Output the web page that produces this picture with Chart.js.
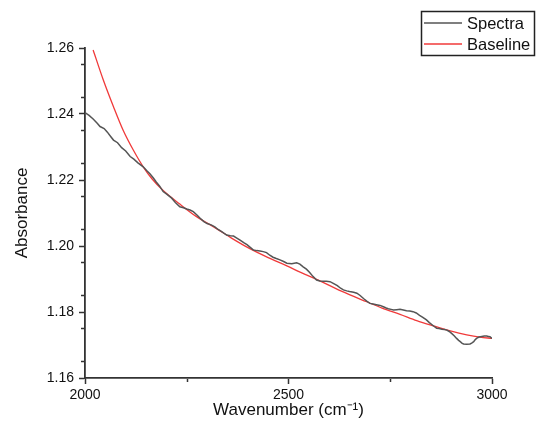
<!DOCTYPE html>
<html>
<head>
<meta charset="utf-8">
<script src="https://cdn.jsdelivr.net/npm/chart.js@4"></script>
<style>
  html, body { margin: 0; padding: 0; background: #fff; }
  #wrap { width: 536px; height: 433px; }
</style>
</head>
<body>
<div id="wrap"><canvas id="spectraChart"></canvas></div>
<script>
// values
var spectraX = [2000, 2010, 2020, 2030, 2037, 2047, 2055, 2063, 2070, 2080, 2090, 2100, 2111, 2120, 2130, 2143, 2152, 2160, 2168, 2175, 2183, 2192, 2200, 2213, 2222, 2233, 2242, 2250, 2258, 2266, 2275, 2283, 2292, 2300, 2310, 2319, 2327, 2335, 2348, 2357, 2365, 2373, 2381, 2390, 2398, 2406, 2414, 2422, 2430, 2438, 2446, 2454, 2462, 2470, 2479, 2488, 2496, 2508, 2520, 2528, 2536, 2544, 2552, 2560, 2569, 2577, 2585, 2593, 2602, 2610, 2620, 2628, 2635, 2643, 2650, 2660, 2668, 2676, 2685, 2693, 2700, 2708, 2716, 2725, 2733, 2740, 2745, 2752, 2758, 2766, 2774, 2782, 2790, 2798, 2806, 2814, 2822, 2830, 2839, 2846, 2852, 2858, 2864, 2870, 2877, 2883, 2889, 2895, 2900, 2907, 2913, 2918, 2922, 2926, 2930, 2938, 2946, 2950, 2955, 2958, 2962, 2968, 2975, 2981, 2987, 2991, 2995, 3000];
var spectraY = [1.2404, 1.2396, 1.2385, 1.2372, 1.2362, 1.2356, 1.2345, 1.2332, 1.2321, 1.2313, 1.2298, 1.2288, 1.2271, 1.2263, 1.2252, 1.2240, 1.2228, 1.2218, 1.2206, 1.2194, 1.2182, 1.2165, 1.2158, 1.2145, 1.2132, 1.2119, 1.2116, 1.2112, 1.2109, 1.2104, 1.2094, 1.2084, 1.2074, 1.2068, 1.2064, 1.2058, 1.2050, 1.2044, 1.2033, 1.2031, 1.2030, 1.2024, 1.2018, 1.2010, 1.2004, 1.1996, 1.1988, 1.1986, 1.1985, 1.1983, 1.1980, 1.1972, 1.1966, 1.1962, 1.1958, 1.1953, 1.1948, 1.1946, 1.1949, 1.1945, 1.1937, 1.1930, 1.1920, 1.1908, 1.1897, 1.1894, 1.1893, 1.1893, 1.1892, 1.1887, 1.1880, 1.1872, 1.1867, 1.1864, 1.1862, 1.1860, 1.1857, 1.1850, 1.1840, 1.1832, 1.1826, 1.1824, 1.1822, 1.1820, 1.1816, 1.1812, 1.1810, 1.1808, 1.1806, 1.1807, 1.1808, 1.1806, 1.1804, 1.1803, 1.1801, 1.1797, 1.1790, 1.1784, 1.1776, 1.1768, 1.1762, 1.1756, 1.1751, 1.1750, 1.1748, 1.1747, 1.1745, 1.1741, 1.1736, 1.1728, 1.1720, 1.1714, 1.1710, 1.1706, 1.1703, 1.1702, 1.1703, 1.1706, 1.1710, 1.1715, 1.1720, 1.1724, 1.1726, 1.1727, 1.1727, 1.1726, 1.1725, 1.1720];

var baselineX = [2020, 2045, 2070, 2094, 2119, 2143, 2165, 2192, 2233, 2274, 2324, 2360, 2405, 2450, 2496, 2530, 2569, 2630, 2692, 2730, 2774, 2815, 2856, 2900, 2938, 2970, 3000];
var baselineY = [1.2594, 1.2503, 1.2422, 1.2350, 1.2290, 1.2240, 1.2203, 1.2168, 1.2127, 1.2089, 1.2052, 1.2024, 1.1992, 1.1965, 1.1940, 1.1920, 1.1899, 1.1863, 1.1831, 1.1812, 1.1793, 1.1774, 1.1758, 1.1742, 1.1731, 1.1724, 1.1720];

var xTicks = [2000, 2500, 3000];
var yTicks = [1.16, 1.18, 1.20, 1.22, 1.24, 1.26];

function toPoints(xs, ys) {
    return xs.map(function (x, i) { return { x: x, y: ys[i] }; });
}

var axisColor = '#333333';
var fontFamily = 'Arial, "Liberation Sans", sans-serif';

// minor ticks halfway between major ones, plus a boxed legend top-right
var extrasPlugin = {
    id: 'extras',
    afterDraw: function (chart) {
        var ctx = chart.ctx;
        var xs = chart.scales.x, ys = chart.scales.y;
        ctx.save();
        ctx.strokeStyle = axisColor;
        ctx.lineWidth = 1.5;
        for (var v = 1.165; v < 1.26; v += 0.01) {
            var py = Math.round(ys.getPixelForValue(v)) + 0.5;
            ctx.beginPath();
            ctx.moveTo(xs.left - 1, py);
            ctx.lineTo(xs.left - 4, py);
            ctx.stroke();
        }
        [2250, 2750].forEach(function (v) {
            var px = Math.round(xs.getPixelForValue(v)) + 0.5;
            ctx.beginPath();
            ctx.moveTo(px, ys.bottom + 1);
            ctx.lineTo(px, ys.bottom + 4);
            ctx.stroke();
        });

        // legend
        var lx = 421, ly = 11, lw = 114, lh = 45;
        ctx.strokeStyle = '#222';
        ctx.lineWidth = 1.5;
        ctx.strokeRect(lx + 0.5, ly + 0.5, lw - 1, lh - 1);
        ctx.font = '16.5px ' + fontFamily;
        ctx.textBaseline = 'middle';
        ctx.textAlign = 'left';
        chart.data.datasets.forEach(function (ds, i) {
            var cy = ly + 12 + i * 21;
            ctx.strokeStyle = ds.borderColor;
            ctx.lineWidth = 1.3;
            ctx.beginPath();
            ctx.moveTo(lx + 3, cy);
            ctx.lineTo(lx + 41, cy);
            ctx.stroke();
            ctx.fillStyle = '#111';
            ctx.fillText(ds.label, lx + 46, cy + 1);
        });
        ctx.restore();
    }
};

var ctx = document.getElementById('spectraChart').getContext('2d');
var chart = new Chart(ctx, {
    type: 'line',
    data: {
        datasets: [{
            label: 'Spectra',
            data: toPoints(spectraX, spectraY),
            borderColor: '#555555',
            borderWidth: 1.5,
            pointRadius: 0,
            tension: 0,
            fill: false
        }, {
            label: 'Baseline',
            data: toPoints(baselineX, baselineY),
            borderColor: '#f03a3a',
            borderWidth: 1.3,
            pointRadius: 0,
            cubicInterpolationMode: 'monotone',
            fill: false
        }]
    },
    options: {
        responsive: true,
        maintainAspectRatio: false,
        animation: false,
        layout: { padding: { left: 0, top: 48, right: 44, bottom: 0 } },
        plugins: {
            legend: { display: false },
            tooltip: { enabled: false }
        },
        scales: {
            x: {
                type: 'linear',
                min: 2000,
                max: 3000,
                afterBuildTicks: function (scale) {
                    scale.ticks = xTicks.map(function (v) { return { value: v }; });
                },
                afterFit: function (scale) { scale.height = 55; },
                ticks: {
                    color: '#111',
                    font: { family: fontFamily, size: 14 },
                    padding: 3,
                    maxRotation: 0,
                    callback: function (v) { return String(v); }
                },
                grid: {
                    drawOnChartArea: false,
                    tickLength: 6,
                    tickWidth: 1.5,
                    color: axisColor
                },
                border: { color: axisColor, width: 1.8 },
                title: {
                    display: true,
                    text: 'Wavenumber (cm\u207B\u00B9)',
                    color: '#111',
                    font: { family: fontFamily, size: 17 },
                    padding: { top: 0, bottom: 12 }
                }
            },
            y: {
                type: 'linear',
                min: 1.16,
                max: 1.26,
                afterBuildTicks: function (scale) {
                    scale.ticks = yTicks.map(function (v) { return { value: v }; });
                },
                afterFit: function (scale) { scale.width = 85; },
                ticks: {
                    color: '#111',
                    font: { family: fontFamily, size: 14 },
                    padding: 5,
                    callback: function (v) { return Number(v).toFixed(2); }
                },
                grid: {
                    drawOnChartArea: false,
                    tickLength: 6,
                    tickWidth: 1.5,
                    color: axisColor
                },
                border: { color: axisColor, width: 1.8 },
                title: {
                    display: true,
                    text: 'Absorbance',
                    color: '#111',
                    font: { family: fontFamily, size: 17 },
                    padding: { top: 12, bottom: 0 }
                }
            }
        }
    },
    plugins: [extrasPlugin]
});
</script>
</body>
</html>
